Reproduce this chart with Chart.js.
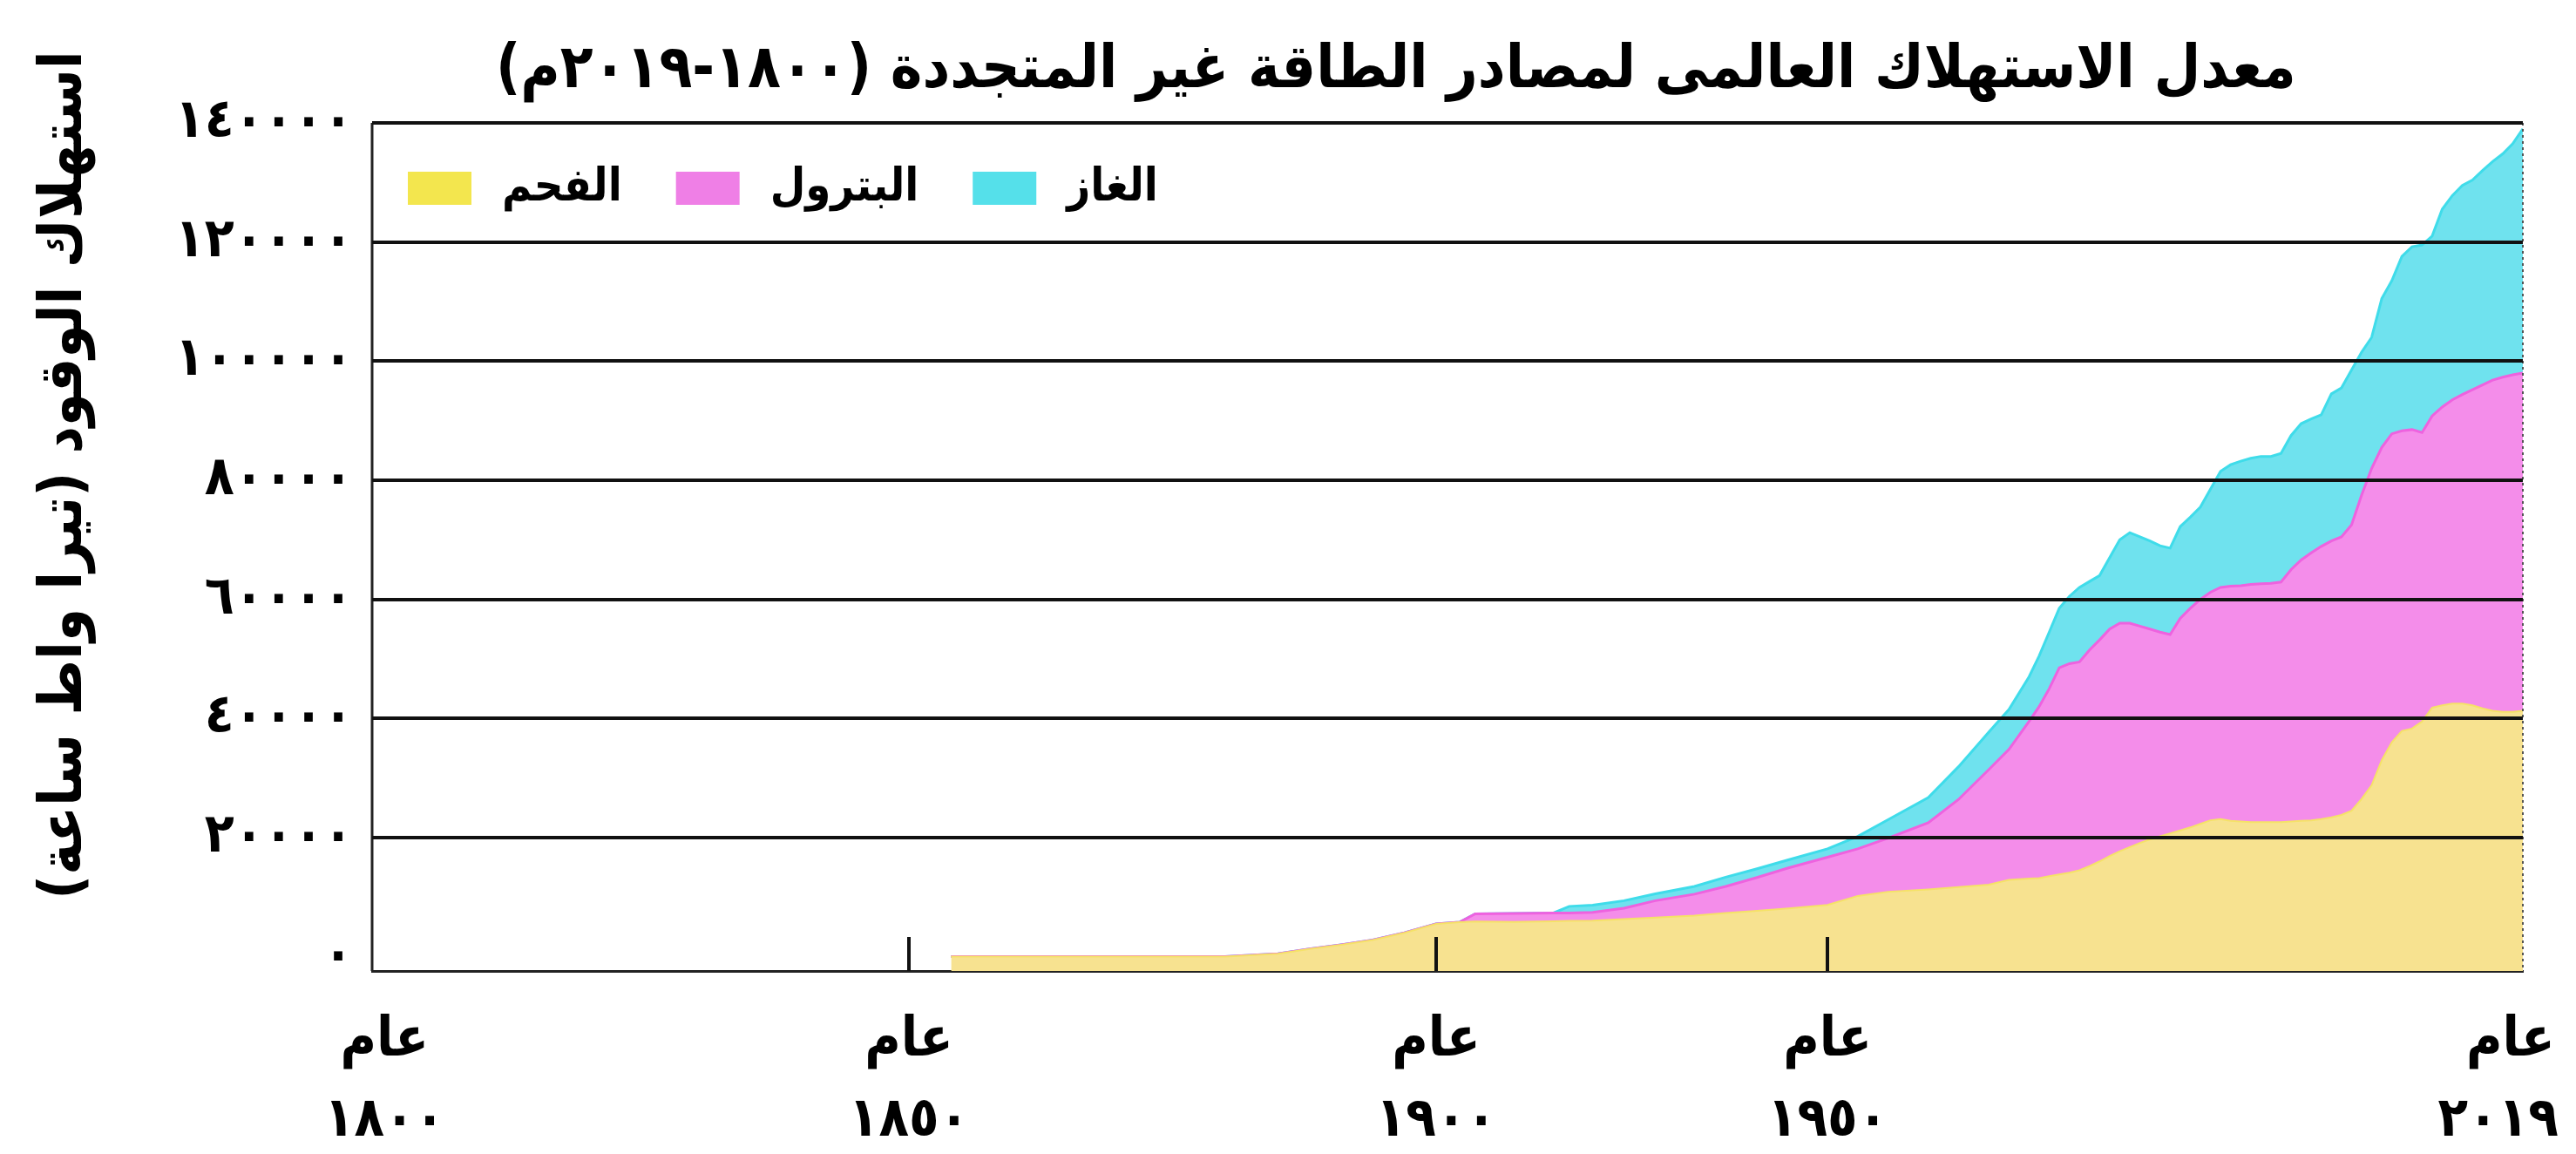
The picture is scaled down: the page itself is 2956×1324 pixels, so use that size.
<!DOCTYPE html>
<html lang="ar">
<head>
<meta charset="utf-8">
<title>معدل الاستهلاك العالمى لمصادر الطاقة غير المتجددة</title>
<script src="https://cdn.jsdelivr.net/npm/chart.js@4.4.1/dist/chart.umd.min.js"></script>
<style>
  html, body { margin: 0; padding: 0; background: #ffffff; }
  #chart { display: block; }
</style>
</head>
<body>
<canvas id="chart" width="2956" height="1324"></canvas>
<script>
// ---- data (TWh) ----
const years = [
  1854, 1860, 1870, 1880, 1885, 1888, 1891, 1894, 1897, 1900,
  1903, 1905, 1910, 1915, 1917, 1920, 1924, 1928, 1933, 1937,
  1941, 1945, 1950, 1953, 1956, 1960, 1963, 1966, 1968,
  1970, 1971, 1972, 1973, 1974, 1975, 1976, 1977, 1978, 1979,
  1980, 1981, 1982, 1983, 1984, 1985, 1986, 1987, 1988, 1989,
  1990, 1991, 1992, 1993, 1994, 1995, 1996, 1997, 1998, 1999,
  2000, 2001, 2002, 2003, 2004, 2005, 2006, 2007, 2008, 2009,
  2010, 2011, 2012, 2013, 2014, 2015, 2016, 2017, 2018, 2019
];

const coal = [
  0, 0, 0, 0, 500, 1300, 2000, 2800, 4000, 5500,
  5800, 5900, 5850, 5950, 6000, 6050, 6300, 6550, 6900, 7350,
  7700, 8100, 8700, 10200, 10900, 11300, 11700, 12100, 12900,
  13100, 13200, 13500, 13800, 14100, 14500, 15200, 16000, 16900, 17700,
  18400, 19100, 19700, 20200, 20700, 21200, 21700, 22300, 22900, 23100,
  22800, 22700, 22600, 22600, 22600, 22600, 22700, 22800, 22900, 23100,
  23400, 23800, 24500, 26500, 28800, 33000, 36000, 37900, 38300, 39500,
  41800, 42200, 42500, 42500, 42200, 41700, 41300, 41100, 41100, 41300
];

const oil = [
  0, 0, 0, 0, 0, 0, 0, 0, 0, 0,
  0, 1300, 1400, 1400, 1350, 1400, 1850, 2850, 3600, 4450,
  5600, 6800, 8000, 7900, 9000, 11200, 14700, 19300, 21900,
  26400, 28800, 31500, 34700, 35100, 35000, 36300, 37200, 38100, 38300,
  37600, 36400, 35300, 34300, 33400, 35600, 36800, 37700, 38300, 38900,
  39400, 39600, 39900, 40000, 40100, 40300, 42300, 43800, 44900, 45800,
  46400, 46700, 48000, 51000, 53200, 52500, 51800, 50400, 50200, 48500,
  49000, 50100, 51000, 51900, 53000, 54300, 55500, 56200, 56600, 56700
];

const gas = [
  0, 0, 0, 0, 0, 0, 0, 0, 0, 0,
  0, 0, 0, 0, 1100, 1200, 1250, 1150, 1300, 1550,
  1450, 1350, 1400, 2100, 3100, 4200, 5500, 6300, 6700,
  7500, 8500, 9500, 10000, 11300, 12500, 11500, 10800, 12000, 14000,
  15200, 15000, 14800, 14500, 14500, 15400, 15300, 15500, 17300, 19500,
  20400, 20900, 21200, 21400, 21300, 21600, 22500, 22900, 22500, 22100,
  24700, 25000, 26000, 24000, 22000, 25000, 25700, 29300, 30700, 31500,
  30200, 33200, 34300, 35100, 35200, 36000, 36700, 37500, 38800, 41000
];

const seriesNames = ['الفحم', 'البترول', 'الغاز'];
const xTickYears = [1800, 1850, 1900, 1950, 2019];
const yTickValues = [0, 20000, 40000, 60000, 80000, 100000, 120000, 140000];
const chartTitle = 'معدل الاستهلاك العالمى لمصادر الطاقة غير المتجددة (١٨٠٠-٢٠١٩م)';
const yAxisTitle = 'استهلاك الوقود (تيرا واط ساعة)';
const yearWord = 'عام';

// ---- helpers ----
const FONT_FAMILY = "'DejaVu Sans Condensed', 'DejaVu Sans', sans-serif";
const AR_DIGITS = '٠١٢٣٤٥٦٧٨٩';
const toArabicDigits = n => String(n).replace(/\d/g, d => AR_DIGITS[+d]);
const EN_SPACE = '\u2002';

// Two-line year label; the end labels are nudged inward with spaces so they stay on the canvas
function yearLabel(value) {
  const word = yearWord;
  const digits = toArabicDigits(value);
  if (value === xTickYears[0]) return [EN_SPACE + word, EN_SPACE + digits];
  if (value === xTickYears[xTickYears.length - 1]) return [word + EN_SPACE, digits + EN_SPACE + EN_SPACE];
  return [word, digits];
}

// Linear axis whose labelled years are spread over uneven shares of its width
class SegmentedScale extends Chart.LinearScale {
  static id = 'segmented';
  static defaults = {};

  valueToDecimal(v) {
    const { values, fractions } = this.options.segments;
    const n = values.length;
    if (v <= values[0]) return fractions[0];
    for (let i = 1; i < n; i++) {
      if (v <= values[i]) {
        const t = (v - values[i - 1]) / (values[i] - values[i - 1]);
        return fractions[i - 1] + t * (fractions[i] - fractions[i - 1]);
      }
    }
    return fractions[n - 1];
  }

  getPixelForValue(value) {
    if (value === null || value === undefined || Number.isNaN(+value)) return NaN;
    return this.getPixelForDecimal(this.valueToDecimal(+value));
  }

  getValueForPixel(pixel) {
    const { values, fractions } = this.options.segments;
    const d = this.getDecimalForPixel(pixel);
    for (let i = 1; i < values.length; i++) {
      if (d <= fractions[i]) {
        const t = (d - fractions[i - 1]) / (fractions[i] - fractions[i - 1]);
        return values[i - 1] + t * (values[i] - values[i - 1]);
      }
    }
    return values[values.length - 1];
  }
}
Chart.register(SegmentedScale);

// Plot frame: solid left edge, dotted right edge, short year ticks on the base line
const frameLinesPlugin = {
  id: 'frameLines',
  beforeDatasetsDraw(chart) {
    const { ctx, chartArea } = chart;
    ctx.save();
    ctx.strokeStyle = '#222';
    ctx.lineWidth = 3;
    ctx.beginPath();
    ctx.moveTo(chartArea.left, chartArea.top);
    ctx.lineTo(chartArea.left, chartArea.bottom);
    ctx.stroke();
    ctx.restore();
  },
  afterDatasetsDraw(chart) {
    const { ctx, chartArea } = chart;
    const xs = chart.scales.x;
    ctx.save();
    ctx.strokeStyle = '#111';
    ctx.lineWidth = 4;
    xs.ticks.forEach((t, i) => {
      if (i === 0 || i === xs.ticks.length - 1) return;
      const px = Math.round(xs.getPixelForValue(t.value));
      ctx.beginPath();
      ctx.moveTo(px, chartArea.bottom);
      ctx.lineTo(px, chartArea.bottom - 39);
      ctx.stroke();
    });
    ctx.strokeStyle = '#555';
    ctx.lineWidth = 2;
    ctx.setLineDash([3, 4]);
    ctx.beginPath();
    ctx.moveTo(chartArea.right, chartArea.top);
    ctx.lineTo(chartArea.right, chartArea.bottom);
    ctx.stroke();
    ctx.restore();
  }
};

// Title and rotated y-axis caption
const frameTextPlugin = {
  id: 'frameText',
  afterDraw(chart) {
    const { ctx, chartArea } = chart;
    ctx.save();
    ctx.direction = 'rtl';
    ctx.fillStyle = '#000';
    ctx.font = `bold 69px ${FONT_FAMILY}`;
    ctx.textAlign = 'center';
    ctx.textBaseline = 'alphabetic';
    ctx.fillText(chartTitle, chartArea.left + chartArea.width * 0.476, 100);

    ctx.translate(75, 545);
    ctx.rotate(-Math.PI / 2);
    ctx.font = `bold 68px ${FONT_FAMILY}`;
    ctx.textBaseline = 'middle';
    ctx.fillText(yAxisTitle, 0, 0);
    ctx.restore();
  }
};

// Legend placed in the upper-left corner of the plot
const insideLegendPlugin = {
  id: 'insideLegend',
  afterDraw(chart) {
    const { ctx, chartArea } = chart;
    const boxW = 73, boxH = 38;
    const top = chartArea.top + 56;
    let x = chartArea.left + 41;
    ctx.save();
    ctx.direction = 'rtl';
    ctx.font = `bold 52px ${FONT_FAMILY}`;
    ctx.textAlign = 'left';
    ctx.textBaseline = 'middle';
    chart.data.datasets.forEach(ds => {
      ctx.fillStyle = ds.legendColor;
      ctx.fillRect(x, top, boxW, boxH);
      x += boxW + 35;
      ctx.fillStyle = '#000';
      ctx.fillText(ds.label, x, top + boxH / 2);
      x += ctx.measureText(ds.label).width + 62;
    });
    ctx.restore();
  }
};

const toPoints = arr => arr.map((v, i) => ({ x: years[i], y: v }));

Chart.defaults.font.family = FONT_FAMILY;
Chart.defaults.color = '#000';

new Chart(document.getElementById('chart'), {
  type: 'line',
  data: {
    datasets: [
      {
        label: seriesNames[0],
        data: toPoints(coal),
        backgroundColor: '#F7E290',
        borderColor: '#F5E268',
        legendColor: '#F3E64E',
        borderWidth: 2,
        fill: 'start'
      },
      {
        label: seriesNames[1],
        data: toPoints(oil),
        backgroundColor: '#F48DEA',
        borderColor: '#EE62DF',
        legendColor: '#EF7FE6',
        borderWidth: 3,
        fill: '-1'
      },
      {
        label: seriesNames[2],
        data: toPoints(gas),
        backgroundColor: '#6FE2EE',
        borderColor: '#3FDCEA',
        legendColor: '#55E0EA',
        borderWidth: 3,
        fill: '-1'
      }
    ]
  },
  options: {
    responsive: false,
    devicePixelRatio: 1,
    animation: false,
    events: [],
    layout: { padding: { top: 141, right: 61, bottom: 0, left: 0 } },
    elements: {
      point: { radius: 0 },
      line: { tension: 0 }
    },
    plugins: {
      legend: { display: false },
      tooltip: { enabled: false },
      title: { display: false }
    },
    scales: {
      x: {
        type: 'segmented',
        min: 1800,
        max: 2019,
        segments: { values: xTickYears, fractions: [0, 0.2496, 0.4947, 0.6767, 1] },
        afterBuildTicks: s => { s.ticks = xTickYears.map(v => ({ value: v })); },
        afterFit: s => { s.height = 210; s.paddingLeft = 0; s.paddingRight = 0; },
        grid: { display: false },
        border: { display: true, color: '#222', width: 3 },
        ticks: {
          autoSkip: false,
          maxRotation: 0,
          minRotation: 0,
          padding: 26,
          color: '#000',
          font: { size: 63, weight: 'bold', lineHeight: 1.47 },
          callback: v => yearLabel(v)
        }
      },
      y: {
        type: 'linear',
        stacked: true,
        min: -2400,
        max: 140000,
        afterBuildTicks: s => { s.ticks = yTickValues.map(v => ({ value: v })); },
        afterFit: s => { s.width = 427; },
        grid: {
          z: 1,
          drawTicks: false,
          lineWidth: 4,
          color: c => (c.tick && c.tick.value === 0) ? 'rgba(0,0,0,0)' : '#111'
        },
        border: { display: false },
        ticks: {
          padding: 22,
          color: '#000',
          font: { size: 62, weight: 'bold' },
          callback: v => toArabicDigits(v)
        }
      }
    }
  },
  plugins: [frameLinesPlugin, frameTextPlugin, insideLegendPlugin]
});
</script>
</body>
</html>
